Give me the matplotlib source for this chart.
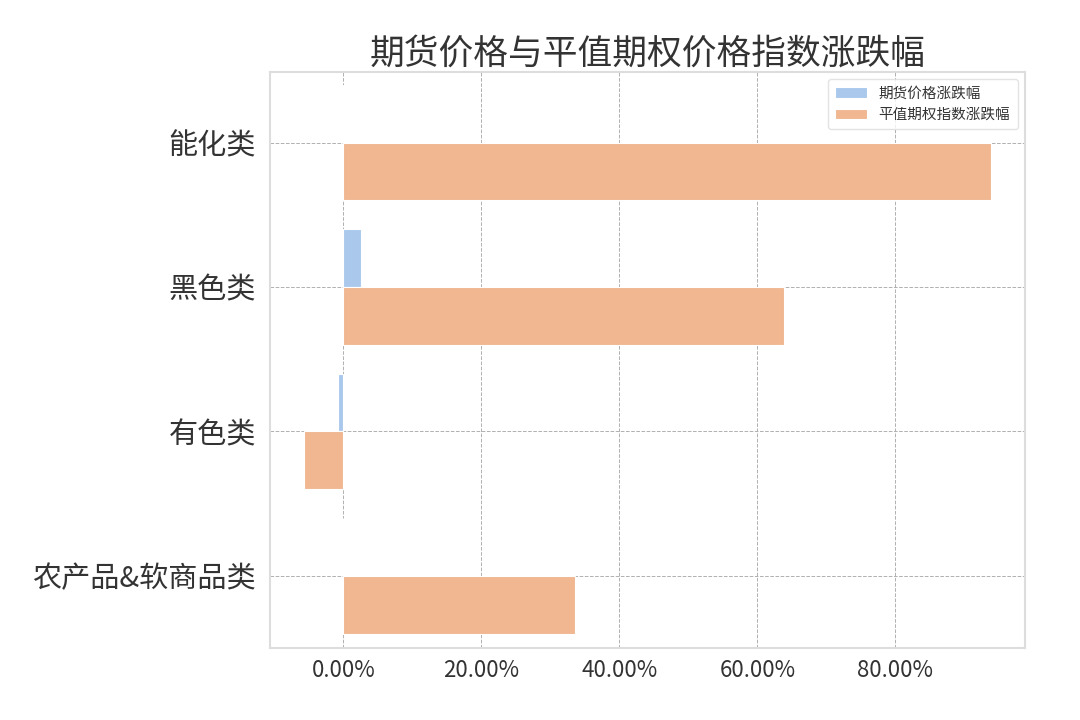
import matplotlib
matplotlib.use('Agg')
import matplotlib.pyplot as plt
import matplotlib.ticker as mticker
import numpy as np

plt.rcParams['font.family'] = ['Noto Sans CJK SC', 'DejaVu Sans']
plt.rcParams['axes.unicode_minus'] = False

categories = ['能化类', '黑色类', '有色类', '农产品&软商品类']
futures_chg = [0.0005, 0.025, -0.007, 0.0]      # 期货价格涨跌幅
option_chg = [0.938, 0.638, -0.0565, 0.336]     # 平值期权指数涨跌幅

blue = '#aac8ec'
orange = '#f0b791'
text_color = '#333333'

fig = plt.figure(figsize=(10.8, 7.2), dpi=100)
ax = fig.add_axes([0.25, 0.1, 0.699, 0.8])

y = np.arange(len(categories))
bar_h = 0.4
ax.barh(y - bar_h / 2, futures_chg, height=bar_h, color=blue,
        edgecolor='white', linewidth=0.8, label='期货价格涨跌幅', zorder=2)
ax.barh(y + bar_h / 2, option_chg, height=bar_h, color=orange,
        edgecolor='white', linewidth=0.8, label='平值期权指数涨跌幅', zorder=2)

ax.set_yticks(y)
ax.set_yticklabels(categories, fontsize=21, color=text_color)
ax.set_ylim(3.5, -0.49)

ax.xaxis.set_major_locator(mticker.MultipleLocator(0.2))
ax.xaxis.set_major_formatter(mticker.FuncFormatter(lambda v, p: f'{v * 100:.2f}%'))
ax.tick_params(axis='x', labelsize=16, colors=text_color, length=0, pad=8)
ax.tick_params(axis='y', length=0, pad=10)

ax.grid(True, linestyle='--', color='#b0b0b0', linewidth=0.7, zorder=0)
ax.set_axisbelow(True)
for s in ax.spines.values():
    s.set_color('#dddddd')
    s.set_linewidth(1.5)

ax.set_title('期货价格与平值期权价格指数涨跌幅', fontsize=25, color=text_color, pad=6)

leg = ax.legend(loc='upper right', fontsize=10.5, frameon=True, fancybox=True,
                edgecolor='#dddddd', handlelength=2.2, borderpad=0.5)
for t in leg.get_texts():
    t.set_color(text_color)

fig.savefig('out.png', dpi=100)
